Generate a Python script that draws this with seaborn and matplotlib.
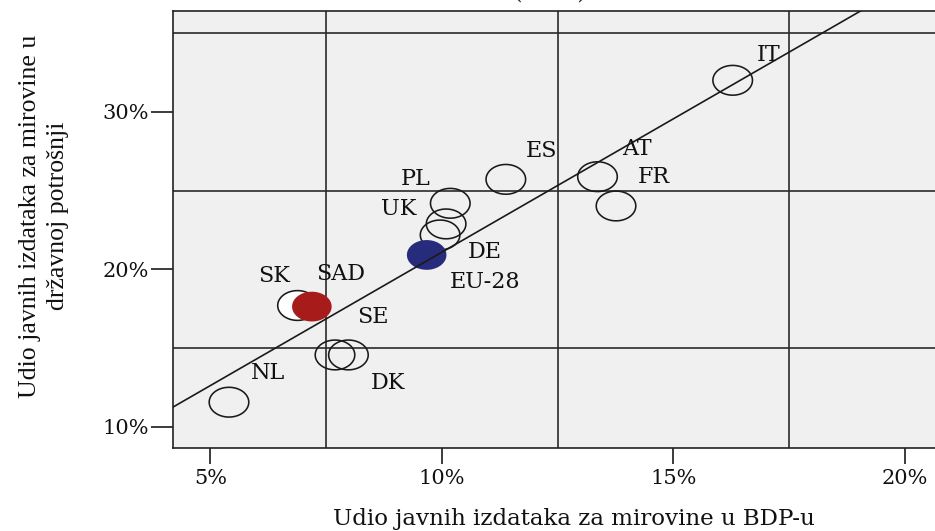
import matplotlib
matplotlib.use('Agg')
import matplotlib.pyplot as plt
from matplotlib.path import Path
import seaborn as sns
import numpy as np
import pandas as pd

# values (percent)
countries = ['IT', 'AT', 'FR', 'ES', 'PL', 'UK', 'DE', 'EU-28', 'SK', 'SAD', 'SE', 'DK', 'NL']
pension_gdp = [16.28, 13.36, 13.76, 11.38, 10.18, 10.09, 9.96, 9.67, 6.87, 7.19, 7.69, 7.98, 5.40]
pension_spending = [32.0, 25.88, 24.02, 25.71, 24.19, 22.88, 22.18, 20.91, 17.73, 17.63, 14.56, 14.56, 11.56]

x_ticks = [5, 10, 15, 20]
x_tick_labels = ['5%', '10%', '15%', '20%']
y_ticks = [10, 20, 30]
y_tick_labels = ['10%', '20%', '30%']
x_ref = [7.5, 12.5, 17.5]
y_ref = [15, 25, 35]

# label offsets in pixels (dx, dy) from the marker
label_offsets = {
    'IT': (36, 25), 'AT': (39, 28), 'FR': (38, 29), 'ES': (36, 28),
    'PL': (-35, 24), 'UK': (-47, 15), 'DE': (45, -17), 'EU-28': (58, -27),
    'SK': (-23, 29), 'SAD': (29, 33), 'SE': (38, 38), 'DK': (40, -28),
    'NL': (39, 29),
}
filled = {'SAD': '#a81b1b', 'EU-28': '#272b7b'}

df = pd.DataFrame({'country': countries, 'gdp': pension_gdp, 'spend': pension_spending})

sns.set_style('ticks')
plt.rcParams['font.family'] = ['DejaVu Serif']

fig = plt.figure(figsize=(9.35, 5.31), dpi=100)
W, H = 935, 531
ax = fig.add_axes([172.5 / W, (H - 447.7) / H, (W - 172.5) / W, (447.7 - 11) / H])
ax.set_facecolor('#f0f0f0')
ax.set_xlim(4.18, 20.65)
ax.set_ylim(8.67, 36.4)

# SPSS style ellipse marker (the source image is stretched sideways)
t = np.linspace(0, 2 * np.pi, 73)
ellipse = Path(np.column_stack([1.33 * np.cos(t), np.sin(t)]), closed=True)
msize = 28.5 ** 2

open_pts = df[~df.country.isin(list(filled) + ['SK'])]
sns.scatterplot(data=open_pts, x='gdp', y='spend', marker=ellipse, s=msize,
                facecolor='none', edgecolor='#1a1a1a', linewidth=1.15, ax=ax, zorder=2)
sns.scatterplot(data=df[df.country == 'SK'], x='gdp', y='spend', marker=ellipse, s=msize,
                facecolor='white', edgecolor='#1a1a1a', linewidth=1.15, ax=ax, zorder=2)
sns.scatterplot(data=df[df.country.isin(filled)], x='gdp', y='spend', hue='country',
                palette=filled, marker=ellipse, s=msize, linewidth=0, legend=False,
                ax=ax, zorder=2)

sns.regplot(data=df, x='gdp', y='spend', scatter=False, ci=None, truncate=False,
            line_kws=dict(color='#1a1a1a', lw=1.2, zorder=3), ax=ax)
ax.set_xlim(4.18, 20.65)
ax.set_ylim(8.67, 36.4)

for _, r in df.iterrows():
    ax.annotate(r.country, (r.gdp, r.spend), xytext=label_offsets[r.country],
                textcoords='offset pixels', ha='center', va='center',
                fontsize=16, color='#111111', zorder=4)

# reference lines
ax.set_xticks(x_ref, minor=True)
ax.set_yticks(y_ref, minor=True)
ax.grid(False)
ax.grid(which='minor', color='#2b2b2b', lw=1.2)
ax.tick_params(which='minor', length=0)

ax.set_xticks(x_ticks)
ax.set_xticklabels(x_tick_labels)
ax.set_yticks(y_ticks)
ax.set_yticklabels(y_tick_labels)
ax.tick_params(axis='x', which='major', direction='out', length=11.5, width=1.2,
               color='#1a1a1a', labelsize=15, pad=4, labelcolor='#111111')
ax.tick_params(axis='y', which='major', direction='out', length=15.8, width=1.2,
               color='#1a1a1a', labelsize=15, pad=1, labelcolor='#111111')

for side in ['left', 'bottom', 'top']:
    ax.spines[side].set_visible(True)
    ax.spines[side].set_color('#222222')
    ax.spines[side].set_linewidth(1.2)
ax.spines['right'].set_visible(False)

ax.set_xlabel('Udio javnih izdataka za mirovine u BDP-u', fontsize=16.5,
              color='#111111', va='baseline')
ax.xaxis.set_label_coords((574 - 172.5) / 762.5, -(525 - 447.7) / 436.7)
ax.set_ylabel('Udio javnih izdataka za mirovine u\ndržavnoj potrošnji',
              fontfamily='Liberation Serif', fontsize=18.5, linespacing=1.4,
              color='#111111', va='center')
ax.yaxis.set_label_coords((44 - 172.5) / 762.5, 0.53)

fig.text(550 / W, (H + 1) / H, '(        )', ha='center', va='baseline',
         fontsize=15.5, color='#222222')

fig.savefig('out.png', dpi=100, facecolor='white')
